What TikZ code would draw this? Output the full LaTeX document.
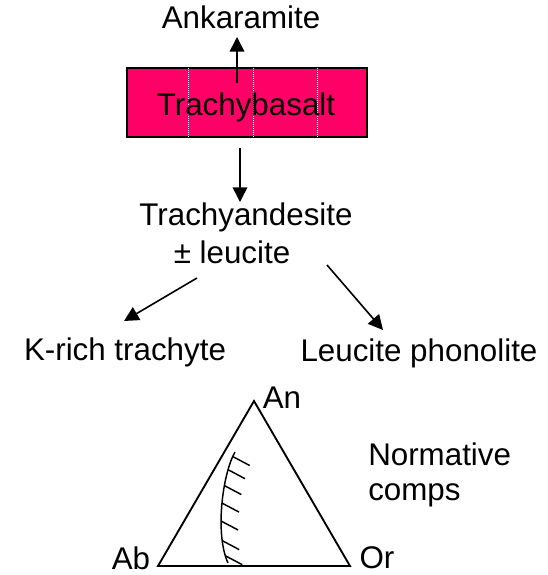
\documentclass[tikz,border=0pt]{standalone}
\usepackage{fontspec}
\setsansfont{Liberation Sans}
\usetikzlibrary{arrows.meta, positioning, calc}
\definecolor{tbPink}{HTML}{FF0066}

\begin{document}
\begin{tikzpicture}[
  x=0.75pt, y=-0.75pt,
  font=\sffamily\fontsize{23.5}{28}\selectfont,
  lbl/.style={inner sep=0pt, anchor=base},
  rock/.style={draw=black, line width=1.4pt, fill=tbPink, minimum width=180pt,
               minimum height=51.75pt, inner sep=0pt},
  grid/.style={white, line width=0.5pt, densely dotted},
  arr/.style={-{Triangle[length=11pt,width=11pt]}, line width=1.2pt},
  tri/.style={line width=1.4pt, line join=miter},
  hatch/.style={line width=1.1pt},
]
\useasboundingbox (0,0) rectangle (548,575);

% flow of the rock series
\node[rock] (box) at (247,102.5) {};
\foreach \gx in {188,253,317}
  \draw[grid] (\gx,68) -- (\gx,137);
\node[lbl] (trb) at (246,115) {Trachybasalt};
\node[lbl] (ank) at (241,28) {Ankaramite};
\node[lbl] (tra) at (246,225) {Trachyandesite};
\node[lbl] (leu) at (232,263) {\symbol{"00B1} leucite};
\node[lbl] (krt) at (125,360) {K-rich trachyte};
\node[lbl] (lph) at (419,361) {Leucite phonolite};

\coordinate (up0) at (237,83);
\coordinate (up1) at (237,37);
\coordinate (dn0) at (240,148);
\coordinate (dn1) at (240,202);
\coordinate (lf0) at (197,278);
\coordinate (lf1) at (124,321);
\coordinate (rt0) at (327,265);
\coordinate (rt1) at (383,330);
\draw[arr] (up0) -- (up1);
\draw[arr] (dn0) -- (dn1);
\draw[arr] (lf0) -- (lf1);
\draw[arr] (rt0) -- (rt1);

% normative triangle
\coordinate (an) at (254,401);
\coordinate (ab) at (158,566);
\coordinate (or) at (350,566);
\draw[tri] (an) -- (ab) -- (or) -- cycle;
\node[lbl] (anl) at (282,408) {An};
\node[lbl] (abl) at (131,569) {Ab};
\node[lbl] (orl) at (377,568) {Or};
\node[lbl, anchor=base west] (nrm) at (368,465) {Normative};
\node[lbl, anchor=base west] (cmp) at (368,500) {comps};

\draw[hatch] (235,452) .. controls (222,475) and (215,535) .. (228,563)
  \foreach \i/\p in {1/0.06,2/0.2,3/0.34,4/0.48,5/0.62,6/0.78,7/0.92} {coordinate[pos=\p] (h\i)};
\foreach \i in {1,...,7}
  \draw[hatch] (h\i) -- ++(17,9);
\end{tikzpicture}
\end{document}
